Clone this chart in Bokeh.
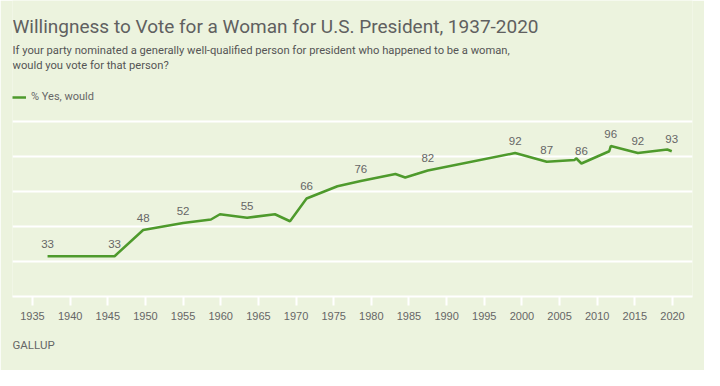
from bokeh.plotting import figure
from bokeh.models import Range1d, FixedTicker, Label, ColumnDataSource, Legend, LegendItem, Title
from bokeh.core.properties import value
from bokeh.embed import file_html
from bokeh.resources import INLINE

title_text = "Willingness to Vote for a Woman for U.S. President, 1937-2020"
subtitle_lines = [
    "If your party nominated a generally well-qualified person for president who happened to be a woman,",
    "would you vote for that person?",
]
series_name = "% Yes, would"
source_text = "GALLUP"

years = [1937.0, 1945.9, 1949.7, 1955.0, 1958.7, 1959.9, 1963.5, 1967.2, 1969.2, 1971.4,
         1975.5, 1978.6, 1983.2, 1984.5, 1987.5, 1999.1, 2003.3, 2007.0, 2007.2, 2007.9,
         2011.6, 2011.8, 2015.4, 2019.3, 2019.9]
values = [33, 33, 48, 52, 54, 57, 55, 57, 53, 66,
          73, 76, 80, 78, 82, 92, 87, 88, 89, 86,
          93, 96, 92, 94, 93]
labeled_points = [0, 1, 2, 3, 6, 9, 11, 14, 15, 16, 19, 21, 22, 24]

tick_years = [1935, 1940, 1945, 1950, 1955, 1960, 1965, 1970, 1975, 1980,
              1985, 1990, 1995, 2000, 2005, 2010, 2015, 2020]
grid_values = [10, 30, 50, 70, 90, 110]

BG = "#ECF3DE"
GREEN = "#4E9A2C"
TEXT = "#666666"

p = figure(width=704, height=370, output_backend="svg", toolbar_location=None,
           x_range=Range1d(1932.344, 2022.656), y_range=Range1d(10, 179.14),
           min_border_left=12, min_border_right=12, min_border_top=0, min_border_bottom=74,
           background_fill_color=BG, border_fill_color=BG, outline_line_color=None)

p.yaxis.visible = False
p.xgrid.grid_line_color = None
p.ygrid.ticker = FixedTicker(ticks=grid_values)
p.ygrid.grid_line_color = "white"
p.ygrid.grid_line_width = 2

ax = p.xaxis[0]
ax.ticker = FixedTicker(ticks=tick_years)
ax.axis_line_color = "white"
ax.axis_line_width = 2
ax.major_tick_line_color = "white"
ax.major_tick_line_width = 2
ax.major_tick_out = 9
ax.major_tick_in = 0
ax.minor_tick_line_color = None
ax.major_label_text_font = "Liberation Sans"
ax.major_label_text_font_size = "11px"
ax.major_label_text_color = TEXT
ax.major_label_standoff = 6

r = p.line(years, values, line_color=GREEN, line_width=2.5)

lab = ColumnDataSource(dict(
    x=[years[i] for i in labeled_points],
    y=[values[i] for i in labeled_points],
    t=[str(values[i]) for i in labeled_points],
))
p.text(x="x", y="y", text="t", source=lab, text_align="center", text_baseline="alphabetic",
       y_offset=-12, text_font=value("Liberation Sans"), text_font_size="11.5px", text_color=TEXT)

legend = Legend(items=[LegendItem(label=series_name, renderers=[r])], location=(0, 193),
                glyph_width=14, glyph_height=12, label_height=12, label_standoff=5,
                padding=0, margin=0, spacing=0, background_fill_alpha=0, border_line_color=None,
                label_text_font="Roboto", label_text_font_size="11px", label_text_color=TEXT)
p.add_layout(legend, "center")

p.add_layout(Label(x=0, y=269.7, x_units="screen", y_units="screen", text=title_text,
                   text_font="Roboto", text_font_size="19px", text_color="#606060",
                   text_baseline="alphabetic"))
p.add_layout(Label(x=0, y=246.5, x_units="screen", y_units="screen", text=subtitle_lines[0],
                   text_font="Roboto", text_font_size="11.2px", text_color="#555555",
                   text_baseline="alphabetic"))
p.add_layout(Label(x=0, y=231, x_units="screen", y_units="screen", text=subtitle_lines[1],
                   text_font="Roboto", text_font_size="11.2px", text_color="#555555",
                   text_baseline="alphabetic"))
p.add_layout(Title(text=source_text, align="left", text_font="Roboto",
                   text_font_size="11.5px", text_font_style="normal", text_color=TEXT,
                   standoff=27), "below")

open("out.html", "w").write(file_html(p, INLINE))
